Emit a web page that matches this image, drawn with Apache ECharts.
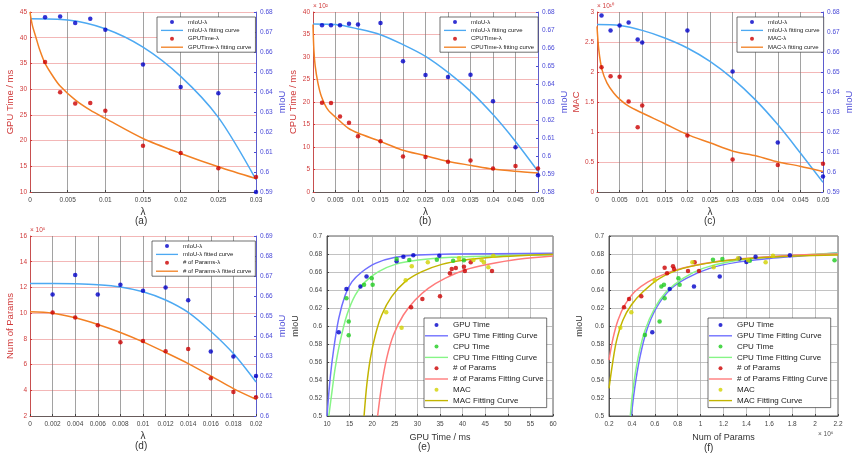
<!DOCTYPE html>
<html><head><meta charset="utf-8">
<script src="https://cdn.jsdelivr.net/npm/echarts@6/dist/echarts.min.js"></script>
<style>html,body{margin:0;padding:0;background:#fff}#c{width:856px;height:462px}</style>
</head><body><div id="c"></div>
<script>
// ---------- (a) GPU time vs lambda ----------
const aLam = [0.002,0.004,0.006,0.008,0.01,0.015,0.02,0.025,0.03];
const aMiou = [0.6774,0.6778,0.6745,0.6766,0.6711,0.6538,0.6425,0.6394,0.5900];
const aGpu = [35.3,29.4,27.2,27.3,25.8,19.0,17.6,14.6,12.9];
const aFitMiouX = [0,0.005,0.01,0.015,0.02,0.025,0.03];
const aFitMiouY = [0.6766,0.6760,0.6716,0.6624,0.6478,0.6273,0.5962];
const aFitGpuX = [0,0.0003,0.0008,0.0013,0.002,0.003,0.004,0.006,0.008,0.01,0.015,0.02,0.025,0.03];
const aFitGpuY = [45,42.5,40,37.6,35,32.6,30.6,27.9,25.9,24.3,20.4,17.5,14.9,12.6];
// ---------- (b) CPU time vs lambda (x10^2) ----------
const bLam = [0.002,0.004,0.006,0.008,0.01,0.015,0.02,0.025,0.03,0.035,0.04,0.045,0.05];
const bMiou = [0.6726,0.6726,0.6726,0.6735,0.6731,0.6739,0.6526,0.6450,0.6439,0.6452,0.6304,0.6048,0.5893];
const bCpu = [19.85,19.8,16.8,15.4,12.4,11.3,7.9,7.8,6.7,7.0,5.2,5.8,5.2];
const bFitMiouX = [0,0.005,0.01,0.015,0.02,0.025,0.03,0.035,0.04,0.045,0.05];
const bFitMiouY = [0.6733,0.6730,0.6706,0.6674,0.6619,0.6554,0.6465,0.6359,0.6230,0.6081,0.5915];
const bFitCpuX = [0,0.0002,0.0005,0.0011,0.00185,0.0033,0.0056,0.0078,0.01,0.0148,0.0196,0.0248,0.03,0.0352,0.04,0.0448,0.05];
const bFitCpuY = [37.2,31.5,27.9,24.2,21.3,18.3,16.1,14.2,13.1,11.3,9.4,8.1,6.8,5.9,5.1,4.6,4.2];
// ---------- (c) MAC vs lambda (x10^10) ----------
const cLam = [0.001,0.003,0.005,0.007,0.009,0.01,0.02,0.03,0.04,0.05];
const cMiou = [0.6782,0.6707,0.6733,0.6748,0.6662,0.6647,0.6707,0.6502,0.6148,0.5978];
const cMac = [2.08,1.93,1.92,1.51,1.08,1.44,0.94,0.54,0.45,0.47];
const cFitMiouX = [0,0.005,0.01,0.015,0.02,0.025,0.03,0.035,0.04,0.045,0.05];
const cFitMiouY = [0.6737,0.6732,0.6708,0.6670,0.6620,0.6553,0.6467,0.6362,0.6237,0.6095,0.5948];
const cFitMacX = [0,0.0004,0.0011,0.0022,0.0037,0.0051,0.007,0.0099,0.0147,0.0199,0.025,0.0301,0.0353,0.0401,0.0449,0.05];
const cFitMacY = [2.76,2.37,2.04,1.82,1.65,1.54,1.43,1.32,1.15,0.96,0.82,0.68,0.60,0.50,0.43,0.34];
// ---------- (d) Num of params vs lambda (x10^5) ----------
const dLam = [0.002,0.004,0.006,0.008,0.01,0.012,0.014,0.016,0.018,0.02];
const dMiou = [0.6608,0.6705,0.6608,0.6656,0.6626,0.6643,0.6579,0.6322,0.6297,0.6200];
const dParams = [10.05,9.66,9.06,7.74,7.84,7.04,7.22,4.94,3.87,3.45];
const dFitX = [0,0.002,0.004,0.006,0.008,0.01,0.012,0.014,0.016,0.018,0.02];
const dFitMiouY = [0.6663,0.6663,0.6661,0.6656,0.6645,0.6621,0.6580,0.6518,0.6424,0.6312,0.6170];
const dFitParamsY = [10.1,10.0,9.64,9.12,8.5,7.77,6.94,6.08,5.12,4.13,3.3];
// ---------- (e) mIoU vs GPU time ----------
const eGpuX = [12.6,14.3,17.4,18.75,25.4,26.9,29.1,34.85];
const eGpuY = [0.593,0.641,0.644,0.655,0.672,0.677,0.6785,0.6781];
const eCpuX = [14.3,14.8,14.8,18.2,19.9,20.1,25.4,28.2,34.3,37.9,40.3];
const eCpuY = [0.6307,0.605,0.5896,0.6459,0.653,0.6459,0.6744,0.6733,0.6737,0.6726,0.673];
const eParX = [28.6,31.1,35.0,37.2,37.6,38.5,40.3,40.5,41.8,46.5];
const eParY = [0.6207,0.63,0.633,0.6585,0.6633,0.6644,0.6659,0.6611,0.6707,0.6611];
const eMacX = [23.1,26.5,27.4,28.75,32.3,39.2,42.4,44.2,44.7,45.7,46.8];
const eMacY = [0.6152,0.598,0.6507,0.6663,0.6707,0.6752,0.6733,0.6733,0.6707,0.6652,0.6781];
const eFitGpuX = [10,10.7,11.5,12.6,14,15.5,17.7,20.7,25.1,30.2,37.6,60];
const eFitGpuY = [0.5,0.542,0.575,0.6085,0.634,0.649,0.660,0.6696,0.6763,0.6789,0.680,0.6807];
const eFitCpuX = [10.4,11.1,11.8,12.9,14.4,16.25,18.5,21.4,25.1,30.2,37.6,48.6,60];
const eFitCpuY = [0.5,0.527,0.553,0.5826,0.6122,0.6344,0.6493,0.6604,0.6685,0.6733,0.6763,0.6781,0.6789];
const eFitParX = [21.2,22.1,23.2,24.7,26.9,29.5,32.4,36.1,40.5,45.7,52.3,60];
const eFitParY = [0.5,0.5344,0.5641,0.59,0.6122,0.6289,0.6419,0.653,0.6622,0.6685,0.6741,0.6778];
const eFitMacX = [18.2,18.8,19.6,20.7,22.1,24.3,27.3,31,35.4,40.5,46.4,52.3,60];
const eFitMacY = [0.5,0.5344,0.5641,0.59,0.6122,0.6326,0.6493,0.6604,0.6685,0.6733,0.6763,0.6781,0.6796];
// ---------- (f) mIoU vs num of params (x10^6) ----------
const fGpuX = [0.578,0.73,0.942,1.167,1.34,1.40,1.48,1.78];
const fGpuY = [0.593,0.641,0.644,0.655,0.675,0.671,0.677,0.6785];
const fCpuX = [0.514,0.642,0.657,0.68,0.686,0.806,0.817,1.108,1.19,1.43,2.17];
const fCpuY = [0.59,0.605,0.644,0.6459,0.6307,0.653,0.6459,0.6737,0.6744,0.6726,0.673];
const fParX = [0.331,0.375,0.482,0.686,0.707,0.759,0.768,0.89,0.948,0.986];
const fParY = [0.6207,0.63,0.633,0.6648,0.6585,0.6663,0.6633,0.6611,0.6707,0.6611];
const fMacX = [0.299,0.395,0.599,0.928,1.114,1.327,1.414,1.568,1.632];
const fMacY = [0.598,0.6152,0.6507,0.6707,0.6652,0.6752,0.6733,0.6707,0.6781];
const fFitGpuX = [0.395,0.424,0.468,0.526,0.613,0.73,0.875,1.079,1.312,1.603,1.894,2.2];
const fFitGpuY = [0.5,0.5307,0.564,0.594,0.62,0.64,0.653,0.664,0.6707,0.675,0.678,0.6815];
const fFitCpuX = [0.386,0.41,0.453,0.511,0.6,0.7,0.846,1.02,1.254,1.545,1.894,2.2];
const fFitCpuY = [0.5,0.53,0.564,0.594,0.62,0.638,0.653,0.664,0.6715,0.676,0.679,0.681];
const fFitParX = [0.2,0.235,0.279,0.337,0.424,0.541,0.7,0.905,1.167,1.487,1.836,2.2];
const fFitParY = [0.5622,0.5863,0.6067,0.6233,0.638,0.649,0.6585,0.666,0.6722,0.676,0.679,0.68];
const fFitMacX = [0.2,0.229,0.264,0.322,0.395,0.497,0.642,0.846,1.108,1.428,1.836,2.2];
const fFitMacY = [0.5307,0.5567,0.5826,0.6067,0.6233,0.638,0.653,0.664,0.6707,0.675,0.6778,0.6789];

const zip = (xs, ys) => xs.map((x, i) => [x, ys[i]]);
const FONT = 'Liberation Sans, Arial, sans-serif';
const RED = '#d03a3a', AXBLUE = '#4a4ad8', BLUE = '#0000c8', LBLUE = '#4da9f2', DRED = '#cc0000', ORANGE = '#f28024';
const C_GPU_L = '#6f6fff', C_CPU_D = '#1fcc1f', C_CPU_L = '#86f586', C_PAR_L = '#ff7a7a', C_MAC_D = '#d2d200', C_MAC_L = '#c2b400';
const LINE_ICON = 'path://M0,0L40,0L40,2.4L0,2.4Z';

const grids = [
  {left:30, top:12, width:226, height:180},
  {left:313, top:12, width:225, height:180},
  {left:597, top:12, width:226, height:180},
  {left:30, top:236, width:226, height:180},
  {left:327, top:236, width:226, height:180, show:true, borderColor:'#333', borderWidth:0.8},
  {left:609, top:236, width:229, height:180, show:true, borderColor:'#333', borderWidth:0.8}
];

function xAx(i, min, max, interval, name, gridColor) {
  const isL = name === 'λ';
  return {type:'value', gridIndex:i, min, max, interval, name, nameLocation:'middle', nameGap: isL ? 15 : 17,
    nameTextStyle:{color:'#333', fontSize: isL ? 10 : 9, fontFamily:FONT},
    axisLine:{show:true, onZero:false, lineStyle:{color:'#444', width:0.8}},
    axisTick:{show:true, inside:true, length:2, lineStyle:{color:'#444'}},
    axisLabel:{color:'#444', fontSize:6.5, margin:5, fontFamily:FONT, showMaxLabel:true, showMinLabel:true},
    splitLine:{show:true, lineStyle:{color:gridColor, width:0.7}}};
}
function yLeft(i, min, max, interval, name, gap) {
  return {type:'value', gridIndex:i, position:'left', min, max, interval, name, nameLocation:'middle', nameGap:gap,
    nameTextStyle:{color:RED, fontSize:9.5, fontFamily:FONT},
    axisLine:{show:true, onZero:false, lineStyle:{color:RED, width:0.8}},
    axisTick:{show:true, inside:true, length:2, lineStyle:{color:RED}},
    axisLabel:{color:RED, fontSize:6.5, margin:3, fontFamily:FONT},
    splitLine:{show:true, lineStyle:{color:'#f0a4a4', width:0.8}}};
}
function yRight(i, min, max, interval) {
  return {type:'value', gridIndex:i, position:'right', min, max, interval, name:'mIoU', nameLocation:'middle', nameGap:21,
    nameTextStyle:{color:AXBLUE, fontSize:9.5, fontFamily:FONT},
    axisLine:{show:true, onZero:false, lineStyle:{color:AXBLUE, width:0.8}},
    axisTick:{show:true, inside:true, length:2, lineStyle:{color:AXBLUE}},
    axisLabel:{color:AXBLUE, fontSize:6.5, margin:4, fontFamily:FONT},
    splitLine:{show:false}};
}
function yBlack(i, gap) {
  return {type:'value', gridIndex:i, min:0.5, max:0.7, interval:0.02, name:'mIoU', nameLocation:'middle', nameGap:gap,
    nameTextStyle:{color:'#333', fontSize:9, fontFamily:FONT},
    axisLine:{show:true, onZero:false, lineStyle:{color:'#444', width:0.8}},
    axisTick:{show:true, inside:true, length:2, lineStyle:{color:'#444'}},
    axisLabel:{color:'#444', fontSize:6.5, margin:5, fontFamily:FONT},
    splitLine:{show:true, lineStyle:{color:'#a8a8a8', width:0.7}}};
}

const xAxis = [
  xAx(0, 0, 0.03, 0.005, 'λ', '#7a7a7a'),
  xAx(1, 0, 0.05, 0.005, 'λ', '#7a7a7a'),
  xAx(2, 0, 0.05, 0.005, 'λ', '#7a7a7a'),
  xAx(3, 0, 0.02, 0.002, 'λ', '#7a7a7a'),
  xAx(4, 10, 60, 5, 'GPU Time / ms', '#a8a8a8'),
  xAx(5, 0.2, 2.2, 0.2, 'Num of Params', '#a8a8a8')
];
const yAxis = [
  yLeft(0, 10, 45, 5, 'GPU Time / ms', 12), yRight(0, 0.59, 0.68, 0.01),
  yLeft(1, 0, 40, 5, 'CPU Time / ms', 13), yRight(1, 0.58, 0.68, 0.01),
  yLeft(2, 0, 3, 0.5, 'MAC', 12), yRight(2, 0.59, 0.68, 0.01),
  yLeft(3, 2, 16, 2, 'Num of Params', 12), yRight(3, 0.6, 0.69, 0.01),
  yBlack(4, 27), yBlack(5, 25)
];

function sc(name, xi, yi, data, color, size) {
  return {type:'scatter', name, xAxisIndex:xi, yAxisIndex:yi, data, symbolSize:size || 4.5, itemStyle:{color}, z:4, silent:true};
}
function ln(name, xi, yi, data, color) {
  return {type:'line', name, xAxisIndex:xi, yAxisIndex:yi, data, smooth:0.3, symbol:'none',
    lineStyle:{color, width:1.5}, itemStyle:{color}, z:3, silent:true};
}

const series = [
  sc('mIoU-λ', 0, 1, zip(aLam, aMiou), BLUE),
  ln('mIoU-λ fitting curve', 0, 1, zip(aFitMiouX, aFitMiouY), LBLUE),
  sc('GPUTime-λ', 0, 0, zip(aLam, aGpu), DRED),
  ln('GPUTime-λ fitting curve', 0, 0, zip(aFitGpuX, aFitGpuY), ORANGE),

  sc('mIoU-λ', 1, 3, zip(bLam, bMiou), BLUE),
  ln('mIoU-λ fitting curve', 1, 3, zip(bFitMiouX, bFitMiouY), LBLUE),
  sc('CPUTime-λ', 1, 2, zip(bLam, bCpu), DRED),
  ln('CPUTime-λ fitting curve', 1, 2, zip(bFitCpuX, bFitCpuY), ORANGE),

  sc('mIoU-λ', 2, 5, zip(cLam, cMiou), BLUE),
  ln('mIoU-λ fitting curve', 2, 5, zip(cFitMiouX, cFitMiouY), LBLUE),
  sc('MAC-λ', 2, 4, zip(cLam, cMac), DRED),
  ln('MAC-λ fitting curve', 2, 4, zip(cFitMacX, cFitMacY), ORANGE),

  sc('mIoU-λ', 3, 7, zip(dLam, dMiou), BLUE),
  ln('mIoU-λ fitted curve', 3, 7, zip(dFitX, dFitMiouY), LBLUE),
  sc('# of Params-λ', 3, 6, zip(dLam, dParams), DRED),
  ln('# of Params-λ fitted curve', 3, 6, zip(dFitX, dFitParamsY), ORANGE),

  sc('GPU Time', 4, 8, zip(eGpuX, eGpuY), BLUE),
  ln('GPU Time Fitting Curve', 4, 8, zip(eFitGpuX, eFitGpuY), C_GPU_L),
  sc('CPU Time', 4, 8, zip(eCpuX, eCpuY), C_CPU_D),
  ln('CPU Time Fitting Curve', 4, 8, zip(eFitCpuX, eFitCpuY), C_CPU_L),
  sc('# of Params', 4, 8, zip(eParX, eParY), DRED),
  ln('# of Params Fitting Curve', 4, 8, zip(eFitParX, eFitParY), C_PAR_L),
  sc('MAC', 4, 8, zip(eMacX, eMacY), C_MAC_D),
  ln('MAC Fitting Curve', 4, 8, zip(eFitMacX, eFitMacY), C_MAC_L),

  sc('GPU Time', 5, 9, zip(fGpuX, fGpuY), BLUE),
  ln('GPU Time Fitting Curve', 5, 9, zip(fFitGpuX, fFitGpuY), C_GPU_L),
  sc('CPU Time', 5, 9, zip(fCpuX, fCpuY), C_CPU_D),
  ln('CPU Time Fitting Curve', 5, 9, zip(fFitCpuX, fFitCpuY), C_CPU_L),
  sc('# of Params', 5, 9, zip(fParX, fParY), DRED),
  ln('# of Params Fitting Curve', 5, 9, zip(fFitParX, fFitParY), C_PAR_L),
  sc('MAC', 5, 9, zip(fMacX, fMacY), C_MAC_D),
  ln('MAC Fitting Curve', 5, 9, zip(fFitMacX, fFitMacY), C_MAC_L)
];

// legend entries: odd positions are fitting-curve lines (drawn as plain line samples)
const legendItems = names => names.map((n, k) => k % 2 === 1 ? {name:n, icon:LINE_ICON} : {name:n, icon:'circle'});

function smallLegend(left, top, names) {
  return {left, top, orient:'vertical', data:legendItems(names), itemWidth:22, itemHeight:4, itemGap:2.4,
    padding:[2,4,2,4], borderColor:'#333', borderWidth:0.7, backgroundColor:'#fff', selectedMode:false,
    textStyle:{fontSize:6, color:'#222', fontFamily:FONT}};
}
function bigLegend(left, top) {
  return {left, top, orient:'vertical',
    data:legendItems(['GPU Time','GPU Time Fitting Curve','CPU Time','CPU Time Fitting Curve','# of Params','# of Params Fitting Curve','MAC','MAC Fitting Curve']),
    itemWidth:23, itemHeight:4, itemGap:2.8, padding:[3,3,3,1], borderColor:'#333', borderWidth:0.7, backgroundColor:'#fff',
    selectedMode:false, textStyle:{fontSize:8, color:'#222', fontFamily:FONT}};
}

const legend = [
  smallLegend(157, 17, ['mIoU-λ','mIoU-λ fitting curve','GPUTime-λ','GPUTime-λ fitting curve']),
  smallLegend(440, 17, ['mIoU-λ','mIoU-λ fitting curve','CPUTime-λ','CPUTime-λ fitting curve']),
  smallLegend(737, 17, ['mIoU-λ','mIoU-λ fitting curve','MAC-λ','MAC-λ fitting curve']),
  smallLegend(152, 241, ['mIoU-λ','mIoU-λ fitted curve','# of Params-λ','# of Params-λ fitted curve']),
  bigLegend(424, 318),
  bigLegend(708, 318)
];

function label(text, x, y) {
  return {type:'text', left:x, top:y, style:{text, fill:'#333', font:'10px ' + FONT}};
}
function note(text, x, y, color) {
  return {type:'text', left:x, top:y, style:{text, fill:color, font:'6.5px ' + FONT}};
}
const graphic = [
  label('(a)', 135, 216), label('(b)', 419, 216), label('(c)', 704, 216),
  label('(d)', 135, 441), label('(e)', 418, 442), label('(f)', 704, 443),
  note('× 10²', 313, 3, RED), note('× 10¹⁰', 597, 3, RED), note('× 10⁵', 30, 227, RED),
  note('× 10⁶', 818, 431, '#555')
];

const chart = echarts.init(document.getElementById('c'), null, {renderer:'canvas'});
chart.setOption({animation:false, backgroundColor:'#fff', textStyle:{fontFamily:FONT},
  grid:grids, xAxis, yAxis, series, legend, graphic});
</script></body></html>
